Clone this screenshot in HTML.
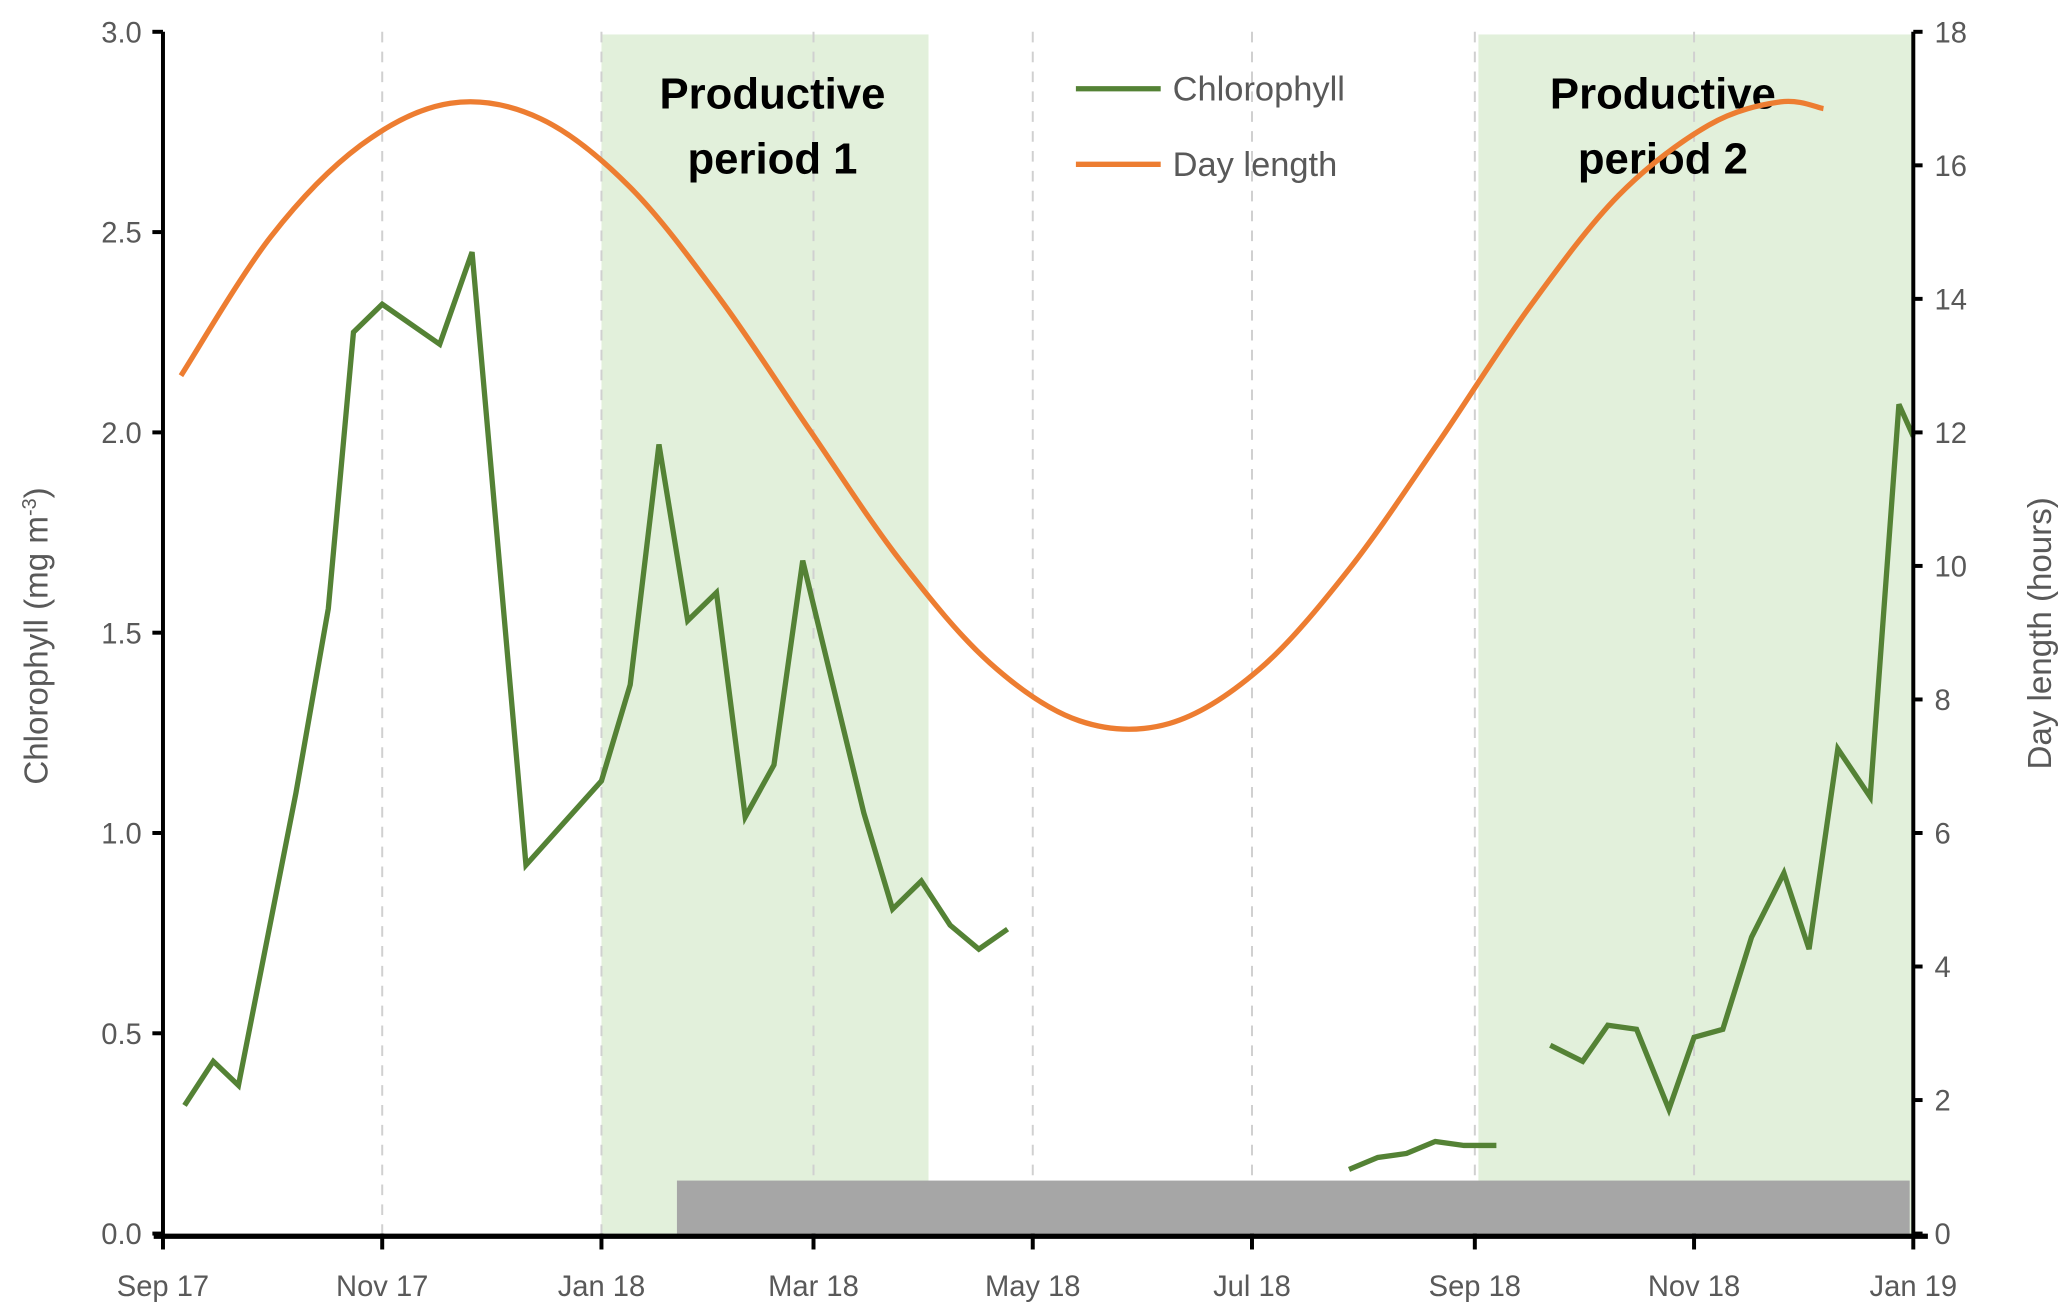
<!DOCTYPE html>
<html><head><meta charset="utf-8"><style>
html,body{margin:0;padding:0;background:#fff;}
svg{display:block;font-family:"Liberation Sans",sans-serif;}
</style></head><body>
<svg id="chart" width="2067" height="1315" viewBox="0 0 1560 992.45" xmlns="http://www.w3.org/2000/svg"></svg>
<script>
// Data (days since 1 Sep 2017)
const tickLabels = ["Sep 17","Nov 17","Jan 18","Mar 18","May 18","Jul 18","Sep 18","Nov 18","Jan 19"];
const tickDays = [0,61,122,181,242,303,365,426,487];
const chlSeg1Days = [6,14,21,37,46,53,61,77,86,101,117,122,130,138,146,154,162,170,178,195,203,211,219,227,235];
const chlSeg1Vals = [0.32,0.43,0.37,1.10,1.56,2.25,2.32,2.22,2.45,0.92,1.08,1.13,1.37,1.97,1.53,1.60,1.04,1.17,1.68,1.05,0.81,0.88,0.77,0.71,0.76];
const chlSeg2Days = [330,338,346,354,362,371];
const chlSeg2Vals = [0.16,0.19,0.20,0.23,0.22,0.22];
const chlSeg3Days = [386,395,402,410,419,426,434,442,451,458,466,475,483,487];
const chlSeg3Vals = [0.47,0.43,0.52,0.51,0.31,0.49,0.51,0.74,0.90,0.71,1.21,1.09,2.07,1.99];
const dayDays = [5,30,55,80,105,130,155,180,205,230,255,280,305,330,355,380,405,430,450,462];
const dayVals = [12.85,14.93,16.30,16.93,16.70,15.67,14.00,12.03,10.09,8.55,7.68,7.64,8.45,9.95,11.86,13.86,15.55,16.60,16.95,16.85];
const yLeftTicks = [0,0.5,1,1.5,2,2.5,3];
const yRightTicks = [0,2,4,6,8,10,12,14,16,18];
const periodDays = [[122,213],[366,487]];
const grayDays = [143,486];

const X0=123,X1=1444,Y0=931,Y1=24;
const xS=d=>X0+(X1-X0)*d/487;
const yL=v=>Y0-(Y0-Y1)*v/3;
const yR=v=>Y0-(Y0-Y1)*v/18;
const svg=document.getElementById('chart');
const NS='http://www.w3.org/2000/svg';
function mk(tag,attrs,parent){const e=document.createElementNS(NS,tag);for(const k in attrs)e.setAttribute(k,attrs[k]);(parent||svg).appendChild(e);return e;}

periodDays.forEach((p,i)=>{
  const r=mk('rect',{x:xS(p[0]),y:26,width:xS(p[1])-xS(p[0]),height:Y0-26,fill:'#e2f0db'});
  
  
});
tickDays.slice(1,-1).forEach(d=>{
  const l=mk('line',{x1:xS(d),x2:xS(d),y1:Y1,y2:Y0,stroke:'#d0d0d0','stroke-width':1.5,'stroke-dasharray':'8,7'});
  
  
});
const gb=mk('rect',{x:xS(grayDays[0]),y:891,width:xS(grayDays[1])-xS(grayDays[0]),height:Y0-891,fill:'#a6a6a6'});



[[583,'period 1'],[1255,'period 2']].forEach((t,i)=>{
  const g=mk('text',{x:t[0],y:82,'text-anchor':'middle','font-size':33,'font-weight':'bold',fill:'#000'});
  
  
  mk('tspan',{x:t[0],y:82},g).textContent='Productive';
  mk('tspan',{x:t[0],y:131},g).textContent=t[1];
});

function smooth(pts){let d='M'+pts[0][0]+','+pts[0][1];for(let i=0;i<pts.length-1;i++){const p0=pts[i-1]||pts[i],p1=pts[i],p2=pts[i+1],p3=pts[i+2]||p2;d+=' C'+(p1[0]+(p2[0]-p0[0])/6)+','+(p1[1]+(p2[1]-p0[1])/6)+' '+(p2[0]-(p3[0]-p1[0])/6)+','+(p2[1]-(p3[1]-p1[1])/6)+' '+p2[0]+','+p2[1];}return d;}
const dl=mk('path',{d:smooth(dayDays.map((d,i)=>[xS(d),yR(dayVals[i])])),fill:'none',stroke:'#ed7d31','stroke-width':4});



[[chlSeg1Days,chlSeg1Vals],[chlSeg2Days,chlSeg2Vals],[chlSeg3Days,chlSeg3Vals]].forEach((s,i)=>{
  const p=mk('polyline',{points:s[0].map((d,j)=>xS(d)+','+yL(s[1][j])).join(' '),fill:'none',stroke:'#548235','stroke-width':4,'stroke-linejoin':'miter'});
  
  
});

const la=mk('line',{x1:X0,x2:X0,y1:Y1,y2:Y0,stroke:'#000','stroke-width':3});


const ra=mk('line',{x1:X1,x2:X1,y1:Y1,y2:Y0,stroke:'#000','stroke-width':3});


const xa=mk('line',{x1:116,x2:1455,y1:Y0+2,y2:Y0+2,stroke:'#000','stroke-width':4});



yLeftTicks.forEach(v=>{
  mk('line',{x1:X0-8,x2:X0,y1:yL(v),y2:yL(v),stroke:'#000','stroke-width':3});
  const t=mk('text',{x:X0-16,y:yL(v)+8,'text-anchor':'end','font-size':22,fill:'#595959'});
  t.textContent=v.toFixed(1);
  
  
});
yRightTicks.forEach(v=>{
  mk('line',{x1:X1,x2:X1+7,y1:yR(v),y2:yR(v),stroke:'#000','stroke-width':3});
  const t=mk('text',{x:X1+16,y:yR(v)+8,'text-anchor':'start','font-size':22,fill:'#595959'});
  t.textContent=v;
  
  
});
tickDays.forEach((d,i)=>{
  mk('line',{x1:xS(d),x2:xS(d),y1:Y0,y2:Y0+12,stroke:'#000','stroke-width':3});
  const t=mk('text',{x:xS(d),y:978,'text-anchor':'middle','font-size':22,fill:'#595959'});
  t.textContent=tickLabels[i];
  
  
});

const lt=mk('text',{x:0,y:0,transform:'translate(36,480) rotate(-90)','text-anchor':'middle','font-size':25,fill:'#595959'});


lt.innerHTML='Chlorophyll (mg m<tspan dy="-9" font-size="15">-3</tspan><tspan dy="9">)</tspan>';
const rt=mk('text',{x:0,y:0,transform:'translate(1548,478) rotate(-90)','text-anchor':'middle','font-size':25,fill:'#595959'});


rt.textContent='Day length (hours)';

[['Chlorophyll','#548235',67],['Day length','#ed7d31',124]].forEach(l=>{
  const g=mk('g',{});
  
  
  mk('line',{x1:812,x2:876,y1:l[2],y2:l[2],stroke:l[1],'stroke-width':4},g);
  mk('text',{x:885,y:l[2]+9,'font-size':26,fill:'#595959'},g).textContent=l[0];
});
</script>
</body></html>
